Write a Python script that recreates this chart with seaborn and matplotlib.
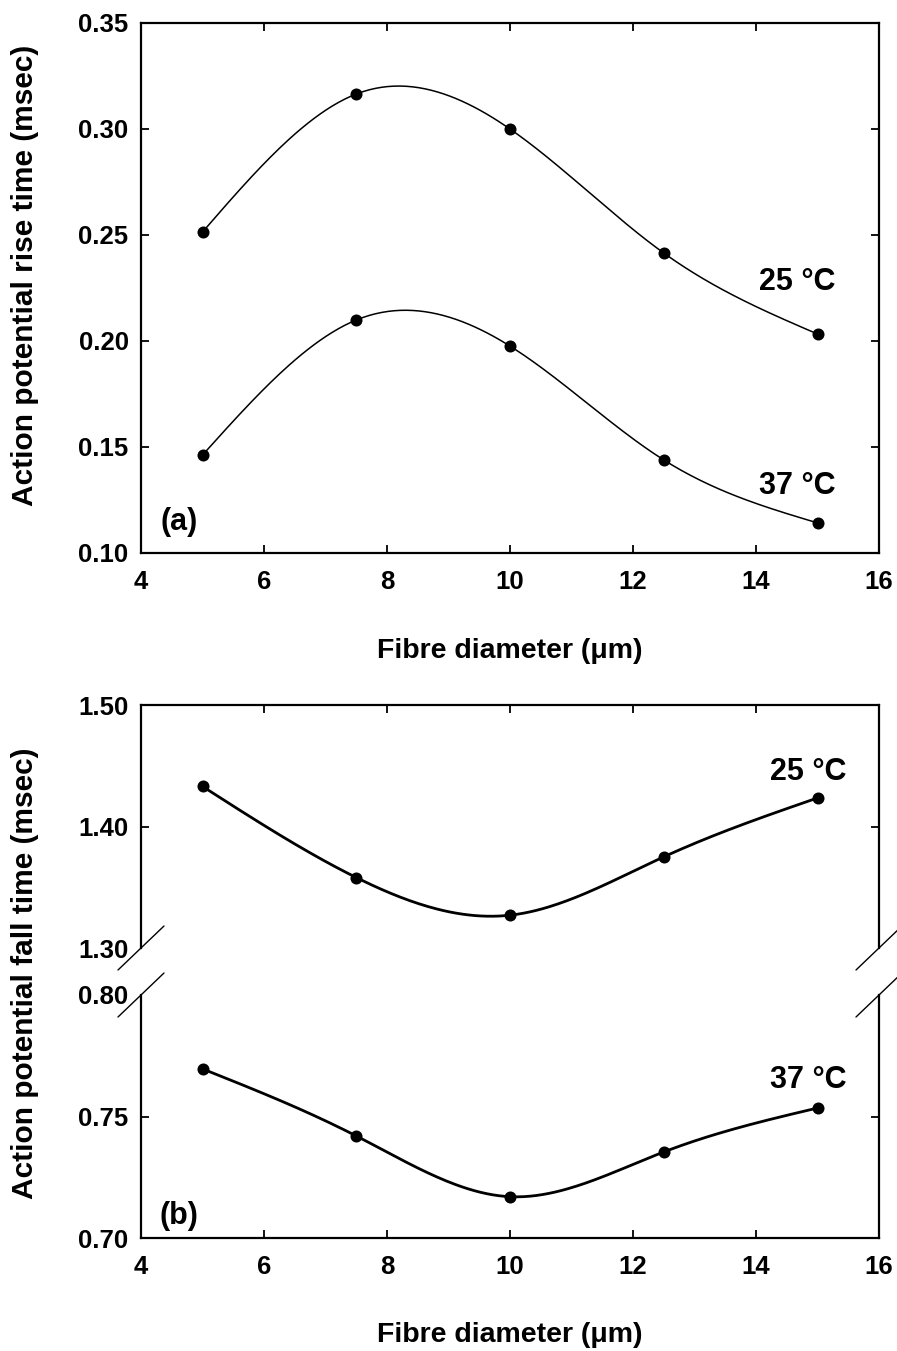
import matplotlib
matplotlib.use("Agg")
import matplotlib.pyplot as plt
import numpy as np
import pandas as pd
import seaborn as sns

# fibre diameter (um)
diameter = [5.0, 7.5, 10.0, 12.5, 15.0]

# (a) action potential rise time (msec)
rise_25 = [0.2514, 0.3165, 0.3000, 0.2415, 0.2033]
rise_37 = [0.1462, 0.2099, 0.1976, 0.1439, 0.1142]

# (b) action potential fall time (msec)
fall_25 = [1.433, 1.358, 1.327, 1.375, 1.4235]
fall_37 = [0.7696, 0.742, 0.717, 0.7354, 0.7535]

x_ticks = [4, 6, 8, 10, 12, 14, 16]
rise_ticks = [0.10, 0.15, 0.20, 0.25, 0.30, 0.35]
fall_hi_ticks = [1.30, 1.40, 1.50]
fall_lo_ticks = [0.70, 0.75, 0.80]

DPI = 100
W, H = 897, 1351
FONT = ["Liberation Sans", "DejaVu Sans"]


def natural_spline(x, y, n=200):
    # smooth drawing curve through the measured points
    x = np.asarray(x, float)
    y = np.asarray(y, float)
    k = len(x)
    h = np.diff(x)
    A = np.zeros((k, k))
    b = np.zeros(k)
    A[0, 0] = A[-1, -1] = 1
    for i in range(1, k - 1):
        A[i, i - 1] = h[i - 1]
        A[i, i] = 2 * (h[i - 1] + h[i])
        A[i, i + 1] = h[i]
        b[i] = 6 * ((y[i + 1] - y[i]) / h[i] - (y[i] - y[i - 1]) / h[i - 1])
    M = np.linalg.solve(A, b)
    xs = np.linspace(x[0], x[-1], n)
    idx = np.clip(np.searchsorted(x, xs) - 1, 0, k - 2)
    x0, x1 = x[idx], x[idx + 1]
    hh = x1 - x0
    t0, t1 = x1 - xs, xs - x0
    ys = (M[idx] * t0**3 + M[idx + 1] * t1**3) / (6 * hh) \
        + (y[idx] / hh - M[idx] * hh / 6) * t0 \
        + (y[idx + 1] / hh - M[idx + 1] * hh / 6) * t1
    return pd.DataFrame({"x": xs, "y": ys})


def add_series(ax, y, lw):
    curve = natural_spline(diameter, y)
    sns.lineplot(data=curve, x="x", y="y", ax=ax, color="black", lw=lw,
                 estimator=None, sort=False)
    pts = pd.DataFrame({"x": diameter, "y": y})
    sns.scatterplot(data=pts, x="x", y="y", ax=ax, color="black", s=75,
                    edgecolor="black", linewidth=0, zorder=5)


def style_axes(ax, yticks, top=True, bottom=True):
    ax.set_xlim(4, 16)
    ax.set_xticks(x_ticks)
    ax.set_yticks(yticks)
    ax.set_yticklabels([f"{v:.2f}" for v in yticks])
    ax.set_xlabel("")
    ax.set_ylabel("")
    ax.tick_params(direction="in", length=6, width=1.3, top=top, bottom=bottom,
                   right=True, left=True, labelsize=18.5, colors="black")
    ax.tick_params(axis="x", pad=12)
    ax.tick_params(axis="y", pad=9)
    for sp in ax.spines.values():
        sp.set_linewidth(1.6)
        sp.set_color("black")
    for lab in ax.get_yticklabels() + ax.get_xticklabels():
        lab.set_fontweight("bold")


sns.set_theme(style="ticks")
plt.rcParams["font.family"] = FONT
plt.rcParams["text.color"] = "black"

fig = plt.figure(figsize=(W / DPI, H / DPI), dpi=DPI)

left, width = 141 / W, 738 / W
ax_a = fig.add_axes([left, 1 - 553 / H, width, 530 / H])
ax_hi = fig.add_axes([left, 1 - 948 / H, width, 243 / H])
ax_lo = fig.add_axes([left, 1 - 1238 / H, width, 243 / H])

# panel (a)
add_series(ax_a, rise_25, 1.1)
add_series(ax_a, rise_37, 1.1)
ax_a.set_ylim(0.10, 0.35)
style_axes(ax_a, rise_ticks)

# panel (b), broken y axis
add_series(ax_hi, fall_25, 2.0)
add_series(ax_lo, fall_37, 2.0)
ax_hi.set_ylim(1.30, 1.50)
ax_lo.set_ylim(0.70, 0.80)
style_axes(ax_hi, fall_hi_ticks, top=True, bottom=False)
style_axes(ax_lo, fall_lo_ticks, top=False, bottom=True)
ax_hi.tick_params(labelbottom=False)
ax_hi.spines["bottom"].set_visible(False)
ax_lo.spines["top"].set_visible(False)
for t in (ax_hi.yaxis.get_major_ticks()[0], ax_lo.yaxis.get_major_ticks()[-1]):
    t.tick1line.set_visible(False)
    t.tick2line.set_visible(False)

# break marks
dx, dy = 23 / 738, 22 / 243
for ax, y0 in ((ax_hi, 0), (ax_lo, 1)):
    for x0 in (0, 1):
        ax.plot([x0 - dx, x0 + dx], [y0 - dy, y0 + dy], transform=ax.transAxes,
                color="black", lw=1.0, clip_on=False)

# annotations
txt = dict(fontsize=22, fontweight="bold", ha="center", va="center", color="black")
ax_a.text(14.67, 0.228, "25 °C", **txt)
ax_a.text(14.67, 0.1316, "37 °C", **txt)
ax_a.text(4.62, 0.1146, "(a)", **txt)
ax_hi.text(14.85, 1.445, "25 °C", **txt)
ax_lo.text(14.85, 0.765, "37 °C", **txt)
ax_lo.text(4.62, 0.709, "(b)", **txt)

lab = dict(fontweight="bold", ha="center", va="center", color="black")
fig.text(510 / W, 1 - 651 / H, "Fibre diameter (μm)", fontsize=20.5, **lab)
fig.text(510 / W, 1 - 1335 / H, "Fibre diameter (μm)", fontsize=20.5, **lab)
fig.text(25 / W, 1 - 275 / H, "Action potential rise time (msec)", rotation=90,
         fontsize=21.5, **lab)
fig.text(25 / W, 1 - 973 / H, "Action potential fall time (msec)", rotation=90,
         fontsize=21.5, **lab)

fig.savefig("out.png", dpi=DPI, facecolor="white")
plt.close(fig)
